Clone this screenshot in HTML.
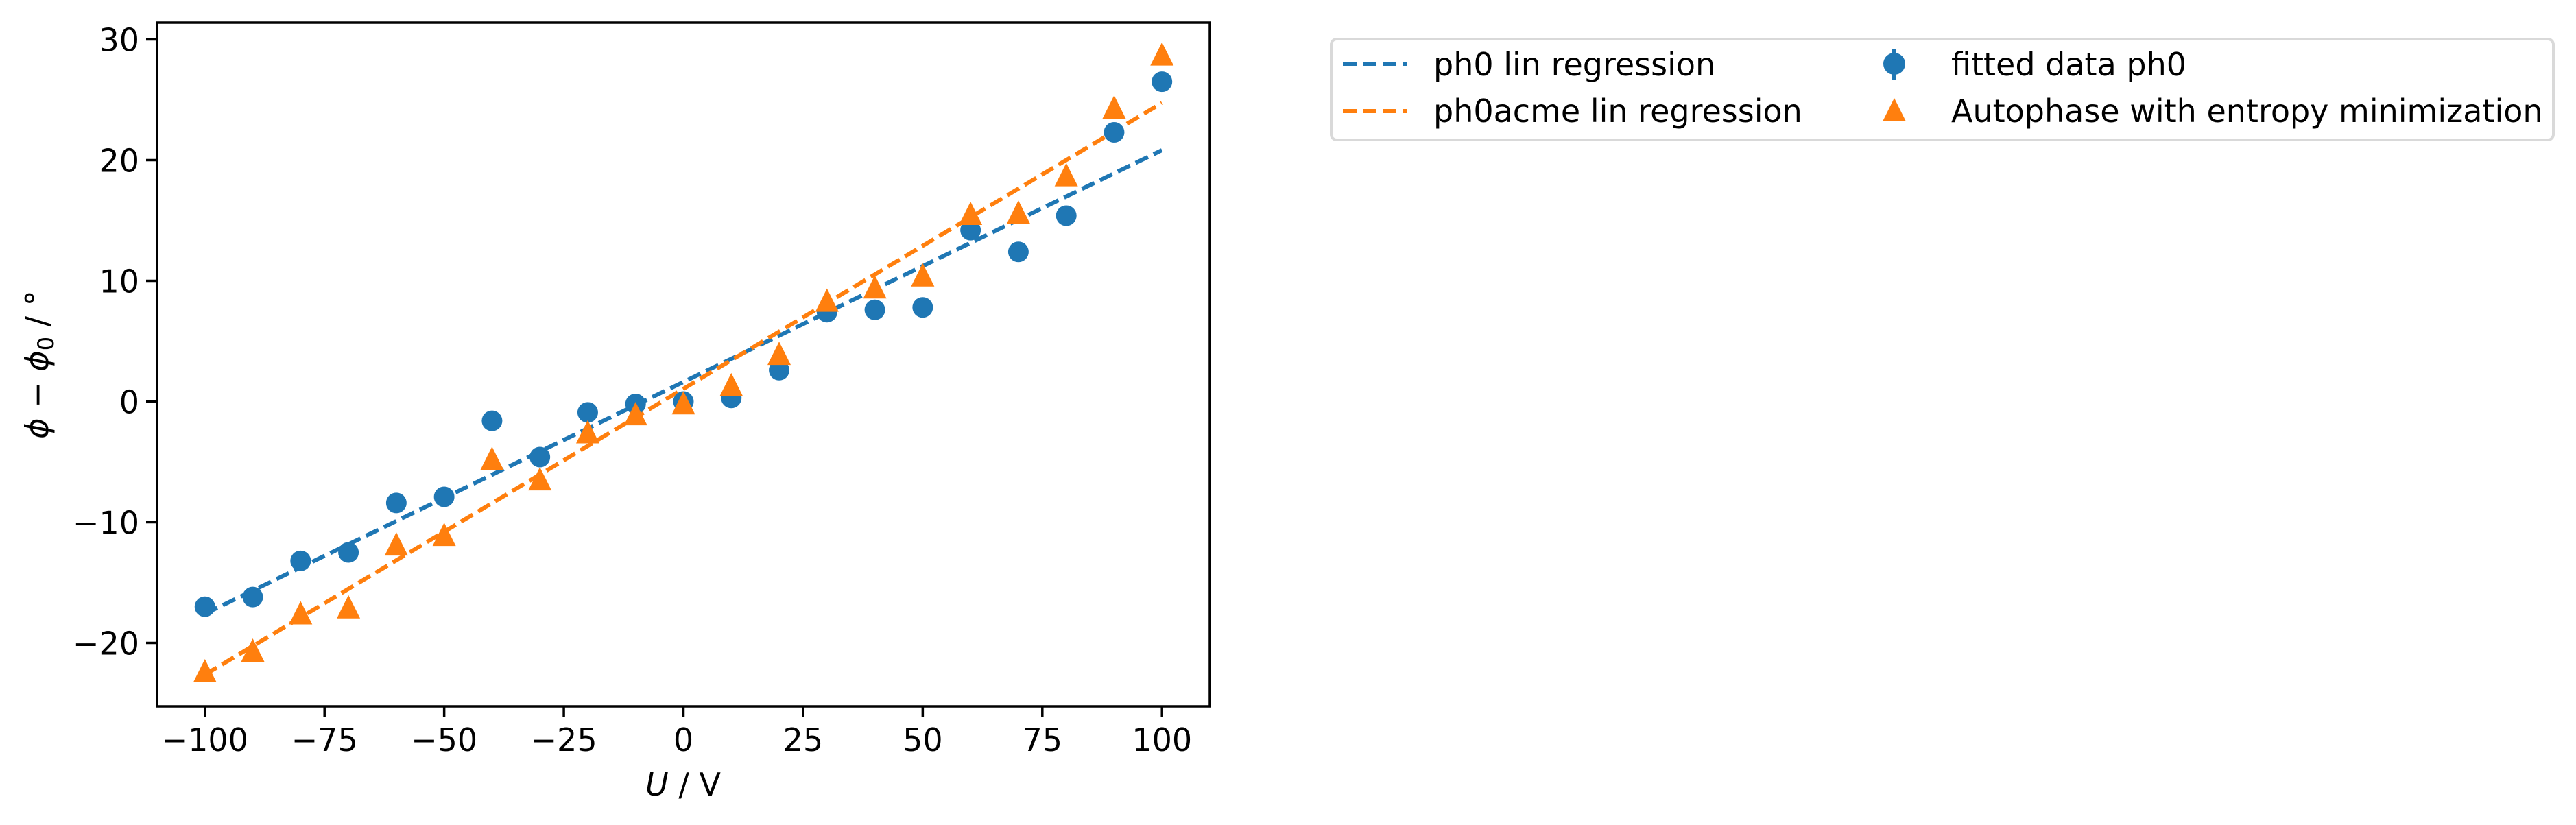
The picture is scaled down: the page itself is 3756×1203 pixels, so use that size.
<!DOCTYPE html>
<html><head><meta charset="utf-8"><style>
html,body{margin:0;padding:0;background:#fff;}
svg{display:block;font-family:"DejaVu Sans","Liberation Sans",sans-serif;}
</style></head><body>
<svg id="chart" width="3756" height="1203" viewBox="0 0 3756 1203">
<rect x="0" y="0" width="3756" height="1203" fill="#fff"/>
<g id="plot"></g>
<g id="axes"></g>
<g id="legend">
  <rect x="1941" y="57" width="1782" height="147" rx="8" fill="#fff" stroke="#d9d9d9" stroke-width="4"/>
  <line x1="1958" y1="93" x2="2051" y2="93" stroke="#1f77b4" stroke-width="6" stroke-dasharray="20,9"/>
  <text x="2090" y="110" font-size="46">ph0 lin regression</text>
  <line x1="1958" y1="162" x2="2051" y2="162" stroke="#ff7f0e" stroke-width="6" stroke-dasharray="20,9"/>
  <text x="2090" y="178" font-size="46">ph0acme lin regression</text>
  <line x1="2762" y1="71" x2="2762" y2="116" stroke="#1f77b4" stroke-width="6"/>
  <circle cx="2762" cy="93" r="16" fill="#1f77b4"/>
  <text x="2845" y="110" font-size="46">fitted data ph0</text>
  <polygon points="2762,143 2745,177 2779,177" fill="#ff7f0e"/>
  <text x="2845" y="178" font-size="46">Autophase with entropy minimization</text>
</g>
</svg>
<script>
const voltages = [-100,-90,-80,-70,-60,-50,-40,-30,-20,-10,0,10,20,30,40,50,60,70,80,90,100];
const ph0Values = [-17.0,-16.2,-13.2,-12.5,-8.4,-7.9,-1.6,-4.6,-0.9,-0.2,0.0,0.3,2.6,7.4,7.6,7.8,14.2,12.4,15.4,22.3,26.5];
const acmeValues = [-22.3,-20.6,-17.5,-17.0,-11.8,-11.0,-4.7,-6.4,-2.5,-1.0,-0.1,1.4,4.0,8.4,9.5,10.5,15.6,15.7,18.8,24.4,28.8];
const xTicks = [-100,-75,-50,-25,0,25,50,75,100];
const yTicks = [-20,-10,0,10,20,30];

const L=229,R=1764,T=33,B=1030;
const xMin=-110,xMax=110;
const yPerUnit=17.6, y0px=585.5;
function sx(v){return L+(v-xMin)/(xMax-xMin)*(R-L);}
function sy(v){return y0px-v*yPerUnit;}
const NS='http://www.w3.org/2000/svg';
function mk(tag,attrs,parent){const e=document.createElementNS(NS,tag);for(const k in attrs)e.setAttribute(k,attrs[k]);parent.appendChild(e);return e;}
function fit(xs,ys){const n=xs.length;let mx=0,my=0;for(let i=0;i<n;i++){mx+=xs[i];my+=ys[i];}mx/=n;my/=n;let sxy=0,sxx=0;for(let i=0;i<n;i++){sxy+=(xs[i]-mx)*(ys[i]-my);sxx+=(xs[i]-mx)**2;}const m=sxy/sxx;return [m,my-m*mx];}

const plot=document.getElementById('plot');
const axes=document.getElementById('axes');
const x1=voltages[0],x2=voltages[voltages.length-1];
const f1=fit(voltages,ph0Values), f2=fit(voltages,acmeValues);
let ln=mk('line',{x1:sx(x1),y1:sy(f1[0]*x1+f1[1]),x2:sx(x2),y2:sy(f1[0]*x2+f1[1]),stroke:'#1f77b4','stroke-width':6,'stroke-dasharray':'20,9'},plot);


ln=mk('line',{x1:sx(x1),y1:sy(f2[0]*x1+f2[1]),x2:sx(x2),y2:sy(f2[0]*x2+f2[1]),stroke:'#ff7f0e','stroke-width':6,'stroke-dasharray':'20,9'},plot);


voltages.forEach((v,i)=>{
  const c=mk('circle',{cx:sx(v),cy:sy(ph0Values[i]),r:15,fill:'#1f77b4'},plot);
  
  
});
voltages.forEach((v,i)=>{
  const cx=sx(v),cy=sy(acmeValues[i]);
  const p=mk('polygon',{points:`${cx},${cy-17} ${cx-17},${cy+17} ${cx+17},${cy+17}`,fill:'#ff7f0e'},plot);
  
  
});
const fr=mk('rect',{x:L,y:T,width:R-L,height:B-T,fill:'none',stroke:'#000','stroke-width':3.5},axes);


xTicks.forEach(t=>{
  const x=sx(t);
  const tk=mk('line',{x1:x,y1:B,x2:x,y2:B+16,stroke:'#000','stroke-width':3.5},axes);
  
  
  const tx=mk('text',{x:x,y:1095,'font-size':46,'text-anchor':'middle'},axes);
  tx.textContent=t<0?'\u2212'+(-t):String(t);
  
  
});
yTicks.forEach(t=>{
  const y=sy(t);
  const tk=mk('line',{x1:L-16,y1:y,x2:L,y2:y,stroke:'#000','stroke-width':3.5},axes);
  
  
  const tx=mk('text',{x:L-26,y:y+17,'font-size':46,'text-anchor':'end'},axes);
  tx.textContent=t<0?'\u2212'+(-t):String(t);
  
  
});
const xl=mk('text',{x:996,y:1160,'font-size':46,'text-anchor':'middle'},axes);
xl.innerHTML='<tspan font-style="italic">U</tspan> / V';


const yl=mk('text',{x:0,y:0,'font-size':46,'text-anchor':'middle',transform:`translate(70,${(T+B)/2}) rotate(-90)`},axes);
yl.innerHTML='<tspan font-style="italic">ϕ</tspan> − <tspan font-style="italic">ϕ</tspan><tspan font-size="32" dy="8">0</tspan><tspan dy="-8"> / °</tspan>';


</script>
</body></html>
